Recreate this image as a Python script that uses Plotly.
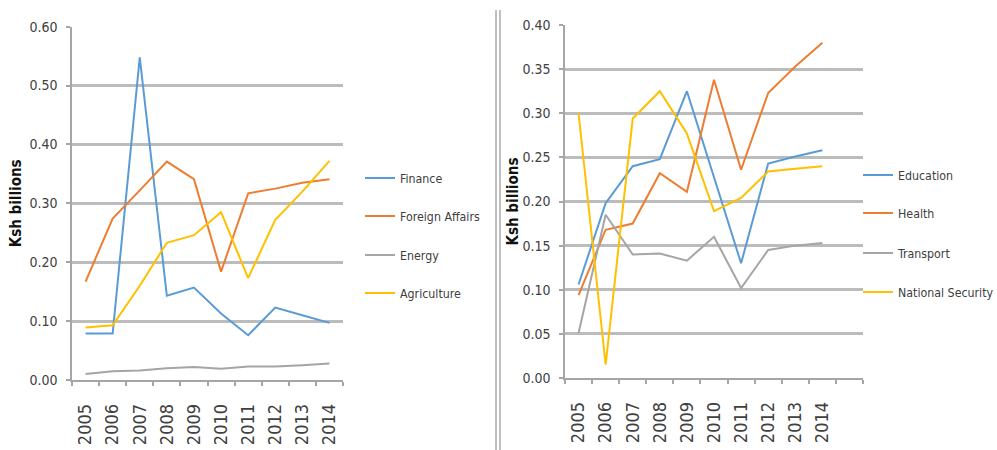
import plotly.graph_objects as go

years = ["2005", "2006", "2007", "2008", "2009", "2010", "2011", "2012", "2013", "2014"]

# Left panel (Ksh billions)
finance = [0.079, 0.079, 0.548, 0.143, 0.157, 0.113, 0.076, 0.123, 0.110, 0.097]
foreign_affairs = [0.167, 0.274, 0.322, 0.371, 0.341, 0.184, 0.317, 0.325, 0.335, 0.341]
energy = [0.010, 0.015, 0.016, 0.020, 0.022, 0.019, 0.023, 0.023, 0.025, 0.028]
agriculture = [0.089, 0.093, 0.160, 0.233, 0.246, 0.285, 0.173, 0.272, 0.320, 0.372]

# Right panel (Ksh billions)
education = [0.106, 0.198, 0.240, 0.248, 0.325, 0.228, 0.130, 0.243, 0.251, 0.258]
health = [0.094, 0.168, 0.175, 0.232, 0.211, 0.338, 0.236, 0.323, 0.353, 0.380]
transport = [0.051, 0.185, 0.140, 0.141, 0.133, 0.160, 0.102, 0.145, 0.150, 0.153]
national_security = [0.300, 0.015, 0.294, 0.325, 0.277, 0.189, 0.204, 0.234, 0.237, 0.240]

left_ticks = [0.0, 0.1, 0.2, 0.3, 0.4, 0.5, 0.6]
right_ticks = [0.0, 0.05, 0.10, 0.15, 0.20, 0.25, 0.30, 0.35, 0.40]

BLUE, ORANGE, GRAY, YELLOW = "#5B9BD5", "#ED7D31", "#A5A5A5", "#FFC000"
FONT = "DejaVu Sans Condensed, Liberation Sans Narrow, sans-serif"
TXT = "#404040"
AXC = "#a6a6a6"

W, H = 997, 450

fig = go.Figure()

left_series = [("Finance", finance, BLUE), ("Foreign Affairs", foreign_affairs, ORANGE),
               ("Energy", energy, GRAY), ("Agriculture", agriculture, YELLOW)]
right_series = [("Education", education, BLUE), ("Health", health, ORANGE),
                ("Transport", transport, GRAY), ("National Security", national_security, YELLOW)]

left_leg_y = [178, 216, 255, 293]
right_leg_y = [175, 213, 253, 292]

legends = {}
k = 1
for (name, vals, col), ly in zip(left_series, left_leg_y):
    lid = "legend" if k == 1 else f"legend{k}"
    fig.add_trace(go.Scatter(x=years, y=vals, name=name, mode="lines",
                             line=dict(color=col, width=2), xaxis="x", yaxis="y",
                             legend=lid, showlegend=True))
    legends[lid] = dict(x=360 / W, y=1 - ly / H, xanchor="left", yanchor="middle")
    k += 1
for (name, vals, col), ly in zip(right_series, right_leg_y):
    lid = f"legend{k}"
    fig.add_trace(go.Scatter(x=years, y=vals, name=name, mode="lines",
                             line=dict(color=col, width=2), xaxis="x2", yaxis="y2",
                             legend=lid, showlegend=True))
    legends[lid] = dict(x=858 / W, y=1 - ly / H, xanchor="left", yanchor="middle")
    k += 1

for lid, spec in legends.items():
    spec.update(font=dict(family=FONT, size=12.3, color=TXT), itemwidth=30,
                bgcolor="rgba(0,0,0,0)", borderwidth=0)

ytickfont = dict(family=FONT, size=14, color=TXT)
xtickfont = dict(family=FONT, size=18, color=TXT)
common_x = dict(type="category", tickangle=-90, tickfont=xtickfont, showgrid=False,
                showline=True, linecolor=AXC, linewidth=1.5, ticks="outside",
                tickson="boundaries", ticklen=4, tickcolor=AXC, tickwidth=1.5,
                zeroline=False, fixedrange=True, ticklabelstandoff=15)
common_y = dict(tickfont=ytickfont, showgrid=True, gridcolor="#bcbcbc", gridwidth=2.5,
                showline=True, linecolor=AXC, linewidth=1.5, ticks="outside",
                ticklen=4, tickcolor=AXC, tickwidth=1.5, zeroline=False,
                ticklabelstandoff=6)
title_font = dict(family=FONT, size=15, color="#111111")

fig.update_layout(
    width=W, height=H,
    showlegend=True,
    margin=dict(l=0, r=0, t=0, b=0, autoexpand=False),
    paper_bgcolor="white", plot_bgcolor="white",
    xaxis=dict(common_x, domain=[72 / W, 343 / W], anchor="y",
               categoryorder="array", categoryarray=years, range=[-0.5, 9.5]),
    yaxis=dict(common_y, domain=[1 - 380 / H, 1 - 26.7 / H], anchor="x",
               range=[0, 0.6], tickvals=left_ticks, tickformat=".2f",
               title=dict(text="<b>Ksh billions</b>", font=title_font, standoff=4)),
    xaxis2=dict(common_x, domain=[565 / W, 863 / W], anchor="y2",
                categoryorder="array", categoryarray=years + [" "], range=[-0.5, 10.5]),
    yaxis2=dict(common_y, domain=[1 - 378 / H, 1 - 25 / H], anchor="x2",
                range=[0, 0.4], tickvals=right_ticks, tickformat=".2f",
                title=dict(text="<b>Ksh billions</b>", font=title_font, standoff=0)),
    shapes=[
        dict(type="line", xref="paper", yref="paper", x0=496 / W, x1=496 / W,
             y0=0, y1=1 - 10 / H, line=dict(color="#7f7f7f", width=1)),
        dict(type="line", xref="paper", yref="paper", x0=500 / W, x1=500 / W,
             y0=0, y1=1 - 10 / H, line=dict(color="#7f7f7f", width=1)),
    ],
    **legends,
)

fig.write_html("out.html")
